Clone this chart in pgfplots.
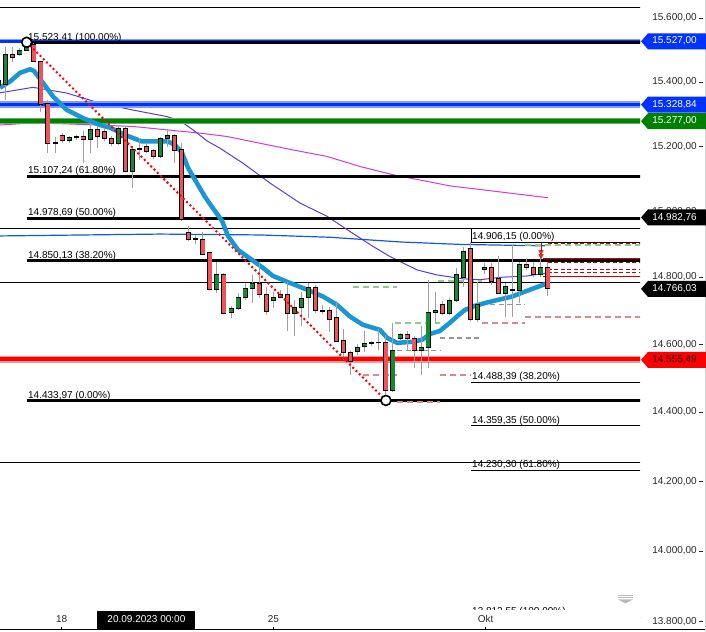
\documentclass[border=0pt]{standalone}
\usepackage{fontspec}
\setmainfont{Liberation Sans}
\usepackage{pgfplots}
\usepackage{pgfplotstable}
\pgfplotsset{compat=1.18}

\definecolor{cup}{RGB}{20,138,50}
\definecolor{cdn}{RGB}{240,82,92}
\definecolor{cwick}{RGB}{160,160,160}
\definecolor{ccyan}{RGB}{25,150,212}
\definecolor{cpurple}{RGB}{90,60,220}
\definecolor{cmag}{RGB}{210,60,210}
\definecolor{cblue}{RGB}{0,51,255}
\definecolor{cbluehalo}{RGB}{130,155,255}
\definecolor{cbluethin}{RGB}{20,90,215}
\definecolor{cgreen}{RGB}{0,128,0}
\definecolor{cgreenhalo}{RGB}{100,175,100}
\definecolor{cred}{RGB}{255,0,0}
\definecolor{credhalo}{RGB}{255,150,150}
\definecolor{cdgreen}{RGB}{140,205,140}
\definecolor{cdgray}{RGB}{150,150,150}
\definecolor{cdpink}{RGB}{215,140,140}
\definecolor{cdred}{RGB}{205,0,0}
\definecolor{axtext}{RGB}{40,40,40}

\pgfplotstableread{
i O H L C
0 15386 15421 15358 15405
1 15390 15509 15343 15484
3 15484 15506 15481 15499
4 15499 15523.41 15496 15506
8 15209 15228 15178 15212
10 15216 15231 15209 15225
11 15226 15234 15219 15228
13 15219 15271 15178 15250
17 15208 15262 15203 15253
19 15122 15200 15071 15189
20 15189 15225 15157 15191
23 15167 15229 15163 15224
24 15224 15252 15198 15231
31 14764 14847 14754 14809
33 14694 14714 14678 14707
34 14707 14752 14702 14740
35 14740 14782 14732 14767
36 14767 14807 14724 14782
39 14730 14757 14707 14740
42 14692 14732 14623 14710
43 14710 14757 14653 14737
44 14740 14782 14678 14770
51 14578 14601 14569 14591
52 14593 14638 14578 14603
53 14603 14610 14595 14604
54 14605 14645 14583 14606
56 14463 14663 14460 14581
57 14618 14634 14613 14628
60 14581 14653 14510 14590
61 14591 14792 14531 14695
62 14694 14757 14660 14701
64 14692 14737 14687 14731
65 14731 14827 14726 14809
66 14801 14892 14772 14879
68 14673 14787 14667 14719
69 14824 14843 14809 14830
72 14752 14783 14682 14772
73 14762 14897 14682 14764
74 14762 14846 14723 14839
77 14807 14882 14801 14830
}\upcandles

\pgfplotstableread{
i O H L C
2 15484 15509 15462 15477
5 15518 15521 15462 15462
6 15462 15465 15305 15327
7 15330 15343 15178 15209
9 15231 15240 15209 15216
12 15228 15247 15148 15220
14 15250 15259 15194 15228
15 15245 15256 15216 15223
16 15222 15231 15200 15206
18 15253 15262 15120 15123
21 15200 15206 15178 15182
22 15185 15191 15160 15167
25 15231 15237 15149 15185
26 15188 15210 14970 14974
27 14933 14955 14910 14915
28 14916 14928 14901 14914
29 14915 14938 14867 14870
30 14873 14874 14762 14764
32 14809 14814 14690 14692
37 14782 14842 14738 14749
38 14749 14772 14687 14697
40 14749 14762 14738 14740
41 14749 14784 14638 14692
45 14770 14777 14692 14700
46 14701 14717 14690 14699
47 14700 14712 14635 14675
48 14678 14727 14607 14608
49 14610 14645 14554 14576
50 14576 14580 14507 14549
55 14606 14628 14433.97 14463
58 14628 14638 14583 14618
59 14618 14626 14529 14583
63 14717 14730 14687 14692
67 14888 14906.15 14670 14673
70 14830 14843 14777 14789
71 14795 14864 14750 14752
75 14839 14858 14822 14830
76 14830 14846 14801 14807
78 14830 14846 14744 14766.03
}\downcandles

\pgfplotsset{
  wickst/.style={cwick, line width=1bp, mark=none},
  outst/.style={black, line width=5bp, mark=none},
  fillst/.style={#1, line width=3.4bp, mark=-, mark size=2.5bp,
     mark options={draw=black, line width=0.9bp, solid}},
  dgreen/.style={cdgreen, line width=2bp, dash pattern=on 6bp off 4bp},
  dgray/.style={cdgray, line width=1.2bp, dash pattern=on 5bp off 3.5bp},
  dpink/.style={cdpink, line width=2bp, dash pattern=on 6bp off 4bp},
  dred/.style={cdred, line width=1.2bp, dash pattern=on 4bp off 2.5bp},
}

% one candle per table row: wick, body outline, body fill
\newcommand\drawcandles[2]{%
  \pgfplotstablegetrowsof{#1}%
  \pgfmathtruncatemacro\nrows{\pgfplotsretval-1}%
  \pgfplotsforeachungrouped \r in {0,...,\nrows}{%
    \pgfplotstablegetelem{\r}{i}\of#1\let\ci\pgfplotsretval
    \pgfplotstablegetelem{\r}{O}\of#1\let\co\pgfplotsretval
    \pgfplotstablegetelem{\r}{H}\of#1\let\ch\pgfplotsretval
    \pgfplotstablegetelem{\r}{L}\of#1\let\cl\pgfplotsretval
    \pgfplotstablegetelem{\r}{C}\of#1\let\cc\pgfplotsretval
    \edef\temp{%
      \noexpand\addplot[wickst] coordinates {(\ci,\cl) (\ci,\ch)};%
      \noexpand\addplot[outst] coordinates {(\ci,\co) (\ci,\cc)};%
      \noexpand\addplot[fillst=#2] coordinates {(\ci,\co) (\ci,\cc)};%
    }\temp
  }%
}

\newcommand\badge[4]{%
  \fill[#2] (bxr |- #1) -- ++(7,8) -- ++(58,0) -- ++(0,-16) -- ++(-58,0) -- cycle;
  \node[anchor=mid east, text=#3, inner sep=0] at (rx |- #1) {#4};}

\begin{document}
\begin{tikzpicture}[x=1bp,y=1bp,font=\fontsize{10bp}{12bp}\selectfont]
\fill[white] (0,0) rectangle (706,632);
\useasboundingbox (0,0) rectangle (706,632);
\begin{axis}[at={(0,0)}, anchor=south west, scale only axis,
  width=640bp, height=632bp,
  % logarithmic price scale, shifted to keep numbers small
  y coord trafo/.code={\pgfmathparse{(ln(#1)-9.6)*1000}},
  y coord inv trafo/.code={\pgfmathparse{exp(#1/1000+9.6)}},
  xmin=0.1847, xmax=91.09, ymin=13771.7, ymax=15657.3,
  hide axis, clip=true]

% thin full-width lines
\addplot[black, line width=1bp] coordinates {(0,15635.1) (92,15635.1)};
\addplot[black, line width=1bp] coordinates {(0,14946.1) (92,14946.1)};
\addplot[black, line width=1bp] coordinates {(0,14783.2) (92,14783.2)};
\addplot[black, line width=1bp] coordinates {(0,14252.4) (92,14252.4)};
% second fibonacci (thin)
\addplot[black, line width=1bp] coordinates {(67.09,14906.15) (92,14906.15)};
\addplot[black, line width=1bp] coordinates {(67.09,14488.39) (92,14488.39)};
\addplot[black, line width=1bp] coordinates {(67.09,14359.35) (92,14359.35)};
\addplot[black, line width=1bp] coordinates {(67.09,14230.30) (92,14230.30)};
\addplot[black, line width=1bp] coordinates {(67.09,13812.55) (92,13812.55)};
\addplot[black, line width=0.7bp] coordinates {(67.09,14946.1) (67.09,14906.15)};

% moving averages (thin)
\addplot[cmag, line width=1bp] coordinates {(0.18,15265.1) (4.87,15271.0) (9.70,15268.2) (19.08,15259.9) (23.91,15249.6) (28.59,15239.4) (32.43,15228.9) (37.12,15208.4) (41.80,15187.6) (46.63,15167.0) (51.32,15136.4) (56.01,15110.9) (64.11,15077.2) (71.21,15058.7) (78.03,15040.3)};
\addplot[cpurple, line width=1bp] coordinates {(0.18,15364.5) (4.87,15382.4) (9.70,15363.6) (14.39,15332.4) (19.08,15311.6) (23.91,15290.8) (25.75,15277.5) (27.60,15249.6) (29.59,15215.5) (31.44,15192.8) (34.70,15146.8) (38.54,15085.4) (42.80,15024.2) (46.64,14983.5) (49.90,14937.9) (53.17,14892.4) (55.58,14862.3) (59.42,14822.3) (62.26,14807.2) (65.95,14795.2) (68.37,14792.2) (71.21,14799.7) (75.04,14804.2) (77.88,14812.4)};
\addplot[cbluethin, line width=1.2bp] coordinates {(0.18,14924.9) (22.91,14930.0) (37.12,14927.9) (47.06,14920.3) (57.00,14906.6) (65.52,14899.0) (77.60,14894.5)};

% coloured level lines
\addplot[cbluehalo, line width=4.5bp] coordinates {(0,15527) (92,15527)};
\addplot[cblue, line width=3bp] coordinates {(0,15527) (92,15527)};
\addplot[cbluehalo, line width=6.5bp] coordinates {(0,15328.84) (92,15328.84)};
\addplot[cblue, line width=3.5bp] coordinates {(0,15328.84) (92,15328.84)};
\addplot[cgreenhalo, line width=6bp] coordinates {(0,15277) (92,15277)};
\addplot[cgreen, line width=4bp] coordinates {(0,15277) (92,15277)};
\addplot[credhalo, line width=7bp] coordinates {(0,14555.49) (92,14555.49)};
\addplot[cred, line width=4bp] coordinates {(0,14555.49) (92,14555.49)};

% first fibonacci (thick)
\addplot[black, line width=3bp] coordinates {(3.98,15523.41) (92,15523.41)};
\addplot[black, line width=3bp] coordinates {(3.98,15107.24) (92,15107.24)};
\addplot[black, line width=3bp] coordinates {(3.98,14978.69) (92,14978.69)};
\addplot[black, line width=3bp] coordinates {(3.98,14850.13) (92,14850.13)};
\addplot[black, line width=3bp] coordinates {(3.98,14433.97) (92,14433.97)};

% short dashed levels
\addplot[dgreen] coordinates {(50.3,14770.3) (56.6,14770.3)};
\addplot[dgreen] coordinates {(56.3,14662.7) (62.7,14662.7)};
\addplot[dgreen] coordinates {(62.4,14790.1) (68.6,14790.1)};
\addplot[dgreen] coordinates {(74.8,14896.6) (92,14896.6)};
\addplot[dgray] coordinates {(62.7,14618.0) (68.6,14618.0)};
\addplot[dgray] coordinates {(56.6,14581.1) (62.7,14581.1)};
\addplot[dgray] coordinates {(68.6,14718.6) (74.8,14718.6)};
\addplot[dpink] coordinates {(51.7,14507.5) (56.6,14507.5)};
\addplot[dpink] coordinates {(62.7,14507.5) (67.0,14507.5)};
\addplot[dpink] coordinates {(56.6,14430.9) (62.7,14430.9)};
\addplot[dpink] coordinates {(68.6,14662.7) (74.8,14662.7)};
\addplot[dpink] coordinates {(74.8,14680.5) (92,14680.5)};
\addplot[dred] coordinates {(78,14900.6) (92,14900.6)};
\addplot[cdred, line width=1.2bp] coordinates {(77.3,14857.5) (92,14857.5)};
\addplot[dred] coordinates {(78,14844.2) (92,14844.2)};
\addplot[dred] coordinates {(78,14824.4) (92,14824.4)};
\addplot[dred] coordinates {(78,14812.3) (92,14812.3)};
\addplot[cdred, line width=1.2bp] coordinates {(77.3,14802.1) (92,14802.1)};
\addplot[cdred, line width=0.8bp] coordinates {(77.03,14903) (77.03,14874)};
\addplot[only marks, mark=triangle*, mark size=2.6bp, mark options={rotate=180, fill=cred!80, draw=cdred}] coordinates {(77.03,14876) (77.03,14864)};

% thick EMA
\addplot[ccyan, line width=4.5bp, line join=round] coordinates {(0.18,15380.2) (1.61,15399.9) (3.03,15427.2) (4.45,15438.8) (5.01,15433.5) (6.29,15395.8) (7.71,15352.9) (9.70,15311.6) (11.97,15286.8) (14.39,15265.1) (15.81,15255.8) (17.94,15234.1) (20.36,15213.4) (22.63,15213.4) (24.05,15213.4) (25.04,15203.1) (26.04,15178.4) (26.89,15132.4) (27.88,15095.6) (29.30,15043.4) (30.30,15012.9) (31.72,14970.4) (32.57,14924.9) (33.99,14882.4) (35.98,14852.3) (37.54,14828.3) (38.96,14804.2) (41.38,14783.2) (43.79,14762.2) (46.07,14742.1) (48.05,14717.1) (49.90,14682.3) (51.75,14657.6) (54.16,14642.7) (55.16,14618.9) (56.58,14604.0) (58.85,14607.0) (60.13,14613.0) (61.26,14630.8) (62.68,14639.7) (64.11,14663.6) (65.24,14684.4) (66.24,14702.2) (67.66,14714.1) (69.08,14723.1) (70.92,14732.0) (72.91,14742.0) (74.76,14757.0) (76.61,14772.1) (78.03,14782.3)};

% candles
\drawcandles{\upcandles}{cup}
\drawcandles{\downcandles}{cdn}

% trend line and anchors
\addplot[cred, line width=2bp, dash pattern=on 2bp off 2.6bp] coordinates {(3.98,15523.41) (55,14433.97)};
\addplot[only marks, mark=*, mark size=5bp, mark options={fill=white, draw=black, line width=1.6bp}] coordinates {(3.98,15523.41) (55,14433.97)};

% anchors for annotations
\coordinate (f1) at (axis cs:4.16,15523.41);
\coordinate (f2) at (axis cs:4.16,15107.24);
\coordinate (f3) at (axis cs:4.16,14978.69);
\coordinate (f4) at (axis cs:4.16,14850.13);
\coordinate (f5) at (axis cs:4.16,14433.97);
\coordinate (g1) at (axis cs:67.23,14906.15);
\coordinate (g2) at (axis cs:67.23,14488.39);
\coordinate (g3) at (axis cs:67.23,14359.35);
\coordinate (g4) at (axis cs:67.23,14230.30);
\coordinate (g5) at (axis cs:67.23,13812.55);
\coordinate (t15600) at (axis cs:1,15600);
\coordinate (t15400) at (axis cs:1,15400);
\coordinate (t15200) at (axis cs:1,15200);
\coordinate (t15000) at (axis cs:1,15000);
\coordinate (t14800) at (axis cs:1,14800);
\coordinate (t14600) at (axis cs:1,14600);
\coordinate (t14400) at (axis cs:1,14400);
\coordinate (t14200) at (axis cs:1,14200);
\coordinate (t14000) at (axis cs:1,14000);
\coordinate (t13800) at (axis cs:1,13800);
\coordinate (b1) at (axis cs:1,15527);
\coordinate (b2) at (axis cs:1,15328.84);
\coordinate (b3) at (axis cs:1,15277);
\coordinate (b4) at (axis cs:1,14982.76);
\coordinate (b5) at (axis cs:1,14766.03);
\coordinate (b6) at (axis cs:1,14555.49);
\coordinate (x18) at (axis cs:8.95,13771.7);
\coordinate (x20) at (axis cs:20.98,13771.7);
\coordinate (x25) at (axis cs:39.02,13771.7);
\coordinate (xokt) at (axis cs:69.16,13771.7);
\end{axis}

% fibonacci labels
\begingroup\fontsize{9.7bp}{11bp}\selectfont
\node[anchor=base west, inner sep=0] at ([yshift=2.8]f1) {15.523,41 (100.00\%)};
\node[anchor=base west, inner sep=0] at ([yshift=2.6]f2) {15.107,24 (61.80\%)};
\node[anchor=base west, inner sep=0] at ([yshift=2.6]f3) {14.978,69 (50.00\%)};
\node[anchor=base west, inner sep=0] at ([yshift=2.6]f4) {14.850,13 (38.20\%)};
\node[anchor=base west, inner sep=0] at ([yshift=2.6]f5) {14.433,97 (0.00\%)};
\node[anchor=base west, inner sep=0] at ([yshift=3]g1) {14.906,15 (0.00\%)};
\node[anchor=base west, inner sep=0] at ([yshift=3]g2) {14.488,39 (38.20\%)};
\node[anchor=base west, inner sep=0] at ([yshift=3]g3) {14.359,35 (50.00\%)};
\node[anchor=base west, inner sep=0] at ([yshift=3]g4) {14.230,30 (61.80\%)};
\node[anchor=base west, inner sep=0] at ([yshift=3]g5) {13.812,55 (100.00\%)};
\endgroup

% time axis strip
\fill[white] (0,0) rectangle (640,22);
\draw[black, line width=1] (0,2.5) -- (706,2.5);
\foreach \c in {x18,x20,x25,xokt} {\draw[black, line width=0.8] ([yshift=2.5]\c) -- ++(0,2.5);}
\node[anchor=mid, text=axtext] at ([yshift=12]x18) {18};
\node[anchor=mid, text=axtext] at ([yshift=12]x25) {25};
\node[anchor=mid, text=axtext] at ([yshift=12]xokt) {Okt};
\fill[black] (97,3) rectangle (195,21);
\node[anchor=mid, text=white] at ([yshift=12]x20) {20.09.2023 00:00};
% scroll icon
\fill[gray!55] (618,36) rectangle (633,37.3);
\fill[gray!55] (618,34) rectangle (633,35.2);
\fill[gray!55] (618,32.5) -- (633,32.5) -- (625.5,28.5) -- cycle;

% price axis
\path (697,0) coordinate (rx) (641,0) coordinate (bxr) (699,0) coordinate (dx);
\foreach \t/\l in {t15600/15.600{,}00, t15400/15.400{,}00, t15200/15.200{,}00, t15000/15.000{,}00, t14800/14.800{,}00, t14600/14.600{,}00, t14400/14.400{,}00, t14200/14.200{,}00, t14000/14.000{,}00, t13800/13.800{,}00} {
  \node[anchor=mid east, text=axtext, inner sep=0] at (rx |- \t) {\l};
  \draw[axtext, line width=0.7] (dx |- \t) -- ++(3.5,0);
}
\draw[gray!35, line width=0.8] (705.6,0) -- (705.6,632);

\badge{b1}{cblue}{white}{15.527,00}
\badge{b2}{cblue}{white}{15.328,84}
\badge{b3}{cgreen}{white}{15.277,00}
\badge{b4}{black}{white}{14.982,76}
\badge{b5}{black}{white}{14.766,03}
\badge{b6}{cred}{black!85!red}{14.555,49}
\end{tikzpicture}
\end{document}
